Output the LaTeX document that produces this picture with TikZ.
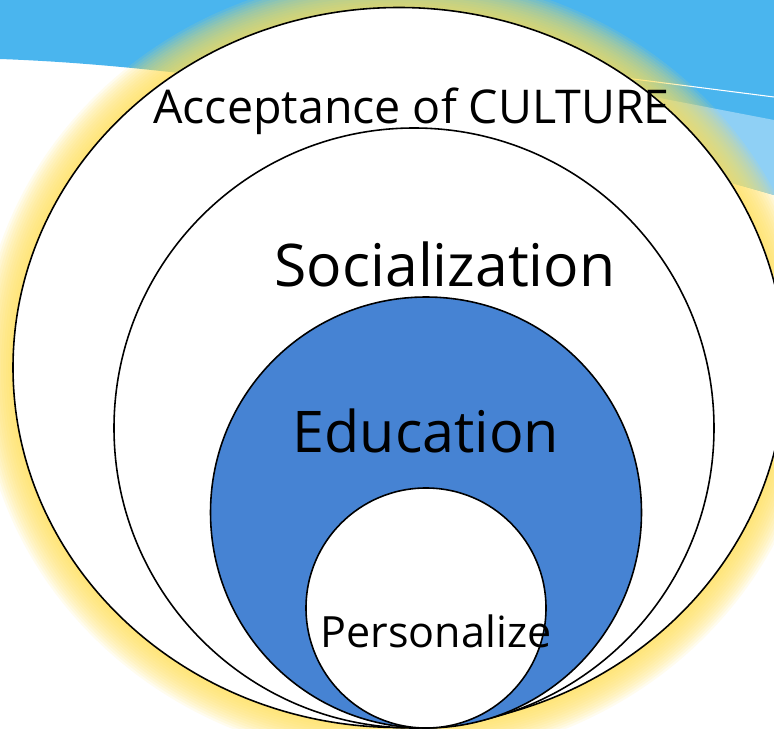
\documentclass[tikz,border=0pt]{standalone}
\usepackage{fontspec}
\setmainfont{Open Sans}
\usetikzlibrary{positioning}
\definecolor{skyblue}{RGB}{74,181,238}
\definecolor{paleblue}{RGB}{143,208,245}
\definecolor{glowyellow}{RGB}{255,226,90}
\definecolor{edublue}{RGB}{70,131,211}
\tikzstyle{ring}=[draw=black,line width=0.9pt,fill=white]
\tikzstyle{glow}=[fill=glowyellow,opacity=0.1]
\tikzstyle{ringtext}=[inner sep=0pt,anchor=base,text=black]

\begin{document}
\begin{tikzpicture}[x=0.02cm,y=-0.02cm]

   \clip (0,0) rectangle (774,729);
   \fill[white] (0,0) rectangle (774,729);

% Background wave
   \fill[skyblue] (0,0) -- (774,0) -- (774,195) .. controls (550,130) and (250,68) .. (0,59) -- cycle;
   \begin{scope}
      \clip (0,0) -- (774,0) -- (774,195) .. controls (550,130) and (250,68) .. (0,59) -- cycle;
      \fill[paleblue] (774,120) -- (300,29) -- (300,300) -- (774,300) -- cycle;
   \end{scope}
   \draw[white, line width=0.6pt] (774,97) -- (500,62);

% Glow
   \foreach \i in {1,...,14}
      \fill[glow] (399,367.5) ellipse [x radius=386+2.4*\i, y radius=360+2.4*\i];

% Rings
   \draw[ring] (399,367.5) ellipse [x radius=386, y radius=360];
   \draw[ring] (414,428) circle [radius=300];
   \draw[ring, fill=edublue] (426,512.5) circle [radius=215.5];
   \draw[ring] (426,608) circle [radius=120];

% Labels
   \node[ringtext, font=\fontsize{26.5}{30}\selectfont] (culture) at (411.5,124) {Acceptance of CULTURE};
   \node[ringtext, font=\fontsize{33.5}{40}\selectfont] (social) at (445,287) {Socialization};
   \node[ringtext, font=\fontsize{32.7}{38}\selectfont] (edu) at (426,452) {Education};
   \node[ringtext, font=\fontsize{24.5}{28}\selectfont] (person) at (436,647) {Personalize};

\end{tikzpicture}
\end{document}
